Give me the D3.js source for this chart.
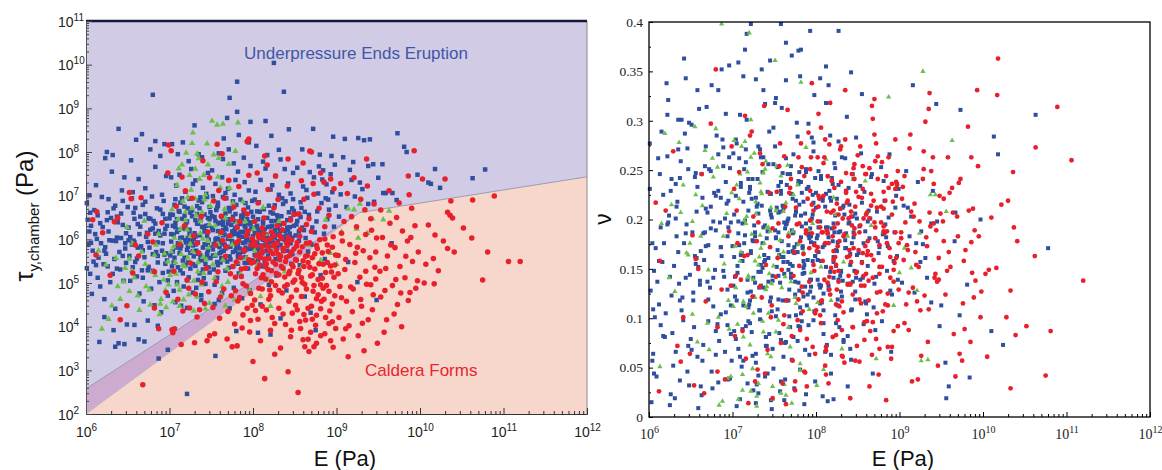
<!DOCTYPE html>
<html>
<head>
<meta charset="utf-8">
<script src="https://cdn.jsdelivr.net/npm/d3@7"></script>
<style>
  body { margin: 0; background: #fff; }
  svg { display: block; }
</style>
</head>
<body>
<svg id="chart" width="1162" height="470"></svg>
<script>
// Samples: [log10 E (Pa), log10 tau_y,chamber (Pa), Poisson ratio nu]
const underpressureEnds = [
[6.02,6.45,.128],[6.05,5.21,.064],[6.01,6.83,.277],[6.08,5.74,.171],[6.11,6.12,.262],[6.03,5.88,.015],[6.14,6.55,.093],[6.17,4.92,.225],[6.06,6.31,.148],[6.21,5.43,.338],[6.19,6.97,.081],[6.24,5.67,.204],[6.12,7.24,.114],[6.27,6.18,.241],[6.29,5.02,.052],[6.33,6.71,.183],[6.22,4.63,.306],[6.36,5.96,.135],[6.31,7.55,.019],[6.38,6.39,.259],[6.41,5.31,.098],[6.44,6.88,.343],[6.35,4.41,.167],[6.47,5.79,.072],[6.26,6.62,.229],[6.43,7.12,.287],[6.09,5.49,.041],[6.16,3.65,.157],[6.39,3.62,.108],[6.33,3.92,.213],[6.48,6.14,.032],[6.45,5.05,.195],[6.13,6.01,.246],[6.28,5.98,.085],[6.37,6.52,.118],[6.46,7.42,.272],[6.04,7.01,.057],[6.23,7.86,.321],[6.49,4.05,.144],[6.34,5.55,.218],[6.18,5.91,.176],[6.07,4.75,.101],[6.42,6.03,.363],[6.25,6.44,.012],[6.32,7.93,.236],
[6.52,5.62,.187],[6.55,6.94,.243],[6.58,4.04,.061],[6.51,6.27,.296],[6.61,5.15,.134],[6.63,7.38,.022],[6.57,6.61,.208],[6.66,5.84,.159],[6.69,4.58,.314],[6.54,7.81,.091],[6.72,6.06,.251],[6.75,5.37,.046],[6.68,6.79,.173],[6.78,4.87,.227],[6.71,7.17,.119],[6.81,6.42,.285],[6.84,5.71,.077],[6.77,8.06,.198],[6.87,6.19,.352],[6.59,5.48,.009],[6.90,4.33,.142],[6.93,6.88,.216],[6.86,5.93,.104],[6.96,7.45,.263],[6.62,6.35,.168],[6.99,5.26,.057],[6.74,4.14,.191],[6.83,7.66,.331],[6.53,5.05,.126],[6.65,6.52,.073],[6.92,6.58,.238],[6.56,7.08,.155],[6.88,5.02,.281],[6.70,5.59,.207],[6.97,6.31,.039],[6.79,6.98,.149],[6.64,4.76,.222],[6.94,5.65,.183],[6.82,4.49,.094],[6.60,8.28,.312],[6.73,6.15,.131],[6.91,7.02,.066],[6.67,5.29,.254],[6.85,6.71,.197],[6.98,4.71,.113],[6.76,5.81,.029],[6.89,7.91,.273],[6.57,5.97,.161],[6.95,5.44,.219],[6.80,6.25,.087],[6.63,3.71,.246],[6.70,3.66,.137],[6.86,4.02,.172],
[6.80,9.31,.224],[6.39,8.53,.301],[6.67,8.41,.187],[6.25,8.00,.142],[6.83,8.25,.266],[6.94,8.18,.093],
[7.02,6.12,.205],[7.05,5.47,.118],[7.08,7.23,.262],[7.11,6.65,.051],[7.14,5.86,.176],[7.17,4.92,.301],[7.03,8.18,.142],[7.20,6.38,.227],[7.23,5.13,.086],[7.26,7.61,.194],[7.29,6.01,.033],[7.16,8.22,.258],[7.32,5.74,.131],[7.35,6.89,.214],[7.38,4.61,.164],[7.41,6.27,.072],[7.44,7.04,.289],[7.47,5.36,.107],[7.30,8.61,.241],[7.06,6.79,.153],[7.09,5.02,.018],[7.12,7.48,.196],[7.15,6.47,.372],[7.18,5.58,.126],[7.21,4.43,.233],[7.24,6.93,.062],[7.27,5.91,.183],[7.31,7.35,.274],[7.33,6.58,.099],[7.36,5.22,.151],[7.39,7.88,.317],[7.42,6.18,.044],[7.45,5.67,.209],[7.48,6.74,.138],[7.01,5.63,.267],[7.04,6.56,.079],[7.07,4.56,.186],[7.10,7.95,.233],[7.13,6.03,.345],[7.19,5.41,.111],[7.22,6.71,.168],[7.25,5.97,.027],[7.28,4.78,.222],[7.34,6.36,.147],[7.37,5.53,.192],[7.40,7.18,.081],[7.43,4.98,.256],[7.46,6.49,.121],[7.49,5.81,.293],[7.02,7.42,.162],[7.13,5.29,.057],[7.23,7.79,.221],[7.32,4.89,.108],[7.41,5.11,.181],[7.17,6.24,.388],[7.27,6.66,.136],[7.36,6.09,.248],[7.46,7.52,.017],[7.08,5.81,.174],[7.19,7.09,.097],[7.29,5.61,.213],[7.39,6.85,.159],[7.48,5.24,.069],[7.05,4.82,.277],[7.15,6.94,.199],[7.25,5.33,.141],[7.35,7.95,.352],[7.44,6.31,.084],[7.11,6.22,.166],[7.21,5.76,.231],[7.31,6.44,.042],[7.42,5.89,.188],[7.03,5.38,.122],[7.14,4.48,.251],[7.24,6.12,.179],[7.34,5.07,.133],[7.45,6.97,.226],[7.09,6.46,.306],[7.28,7.27,.064],[7.38,4.72,.157],[7.47,5.99,.202],[7.20,5.93,.114],[7.33,6.76,.271],[7.12,5.68,.089],
[7.52,6.21,.182],[7.55,5.63,.143],[7.58,6.84,.229],[7.61,5.97,.061],[7.64,6.42,.195],[7.67,5.28,.118],[7.70,7.16,.254],[7.73,6.05,.167],[7.76,5.71,.208],[7.79,6.58,.092],[7.82,5.44,.238],[7.85,6.91,.151],[7.88,6.17,.023],[7.91,5.59,.186],[7.94,6.73,.132],[7.97,5.86,.217],[7.51,7.58,.274],[7.54,4.96,.109],[7.57,6.36,.162],[7.60,5.82,.247],[7.63,7.42,.075],[7.66,6.11,.199],[7.69,5.49,.155],[7.72,6.64,.221],[7.75,5.93,.137],[7.78,7.02,.284],[7.81,6.29,.048],[7.84,5.67,.173],[7.87,6.48,.206],[7.90,7.31,.124],[7.93,6.02,.191],[7.96,6.39,.158],[7.99,5.52,.242],[7.53,5.89,.212],[7.56,6.67,.085],[7.59,4.61,.178],[7.62,6.53,.145],[7.65,5.74,.235],[7.68,6.94,.102],[7.71,5.35,.189],[7.74,6.33,.166],[7.77,4.89,.298],[7.80,6.79,.128],[7.83,6.08,.193],[7.86,5.16,.154],[7.89,6.61,.231],[7.92,5.77,.063],[7.95,7.12,.201],[7.98,6.24,.176],[7.52,6.99,.323],[7.58,5.41,.036],[7.64,7.84,.262],[7.70,6.46,.141],[7.76,6.87,.219],[7.82,7.55,.105],[7.88,5.92,.248],[7.94,5.33,.139],[7.55,7.27,.187],[7.61,6.14,.211],[7.67,6.59,.167],[7.73,5.54,.081],[7.79,7.36,.236],[7.85,6.35,.122],[7.91,6.83,.184],[7.97,7.68,.269],[7.53,5.31,.152],[7.59,7.97,.313],[7.65,8.31,.196],[7.71,8.06,.058],[7.77,7.74,.175],[7.83,8.39,.227],[7.89,7.87,.113],[7.95,8.22,.283],[7.69,8.78,.246],[7.72,9.24,.168],[7.81,9.61,.345],[7.81,8.92,.091],[7.56,6.02,.164],[7.62,5.57,.197],[7.68,6.23,.129],[7.74,6.71,.172],[7.80,5.83,.215],[7.86,6.54,.146],[7.92,5.99,.181],[7.98,6.63,.107],[7.54,4.52,.253],[7.63,4.77,.038],[7.72,4.42,.186],[7.87,4.65,.132],[7.96,4.83,.225],[7.60,6.38,.118],[7.66,5.88,.157],[7.75,6.18,.204],[7.84,5.79,.171],[7.93,6.46,.139],[7.58,6.77,.226],[7.67,7.06,.149],[7.78,6.12,.077],[7.90,5.46,.188],[7.99,6.88,.163],[7.57,5.12,.208],[7.83,5.22,.097],[7.64,6.97,.341],[7.79,6.41,.371],[7.91,6.27,.297],
[8.02,6.15,.184],[8.05,5.72,.131],[8.08,6.63,.219],[8.11,6.02,.066],[8.14,5.86,.192],[8.17,6.49,.147],[8.20,5.95,.236],[8.23,6.31,.103],[8.26,6.78,.177],[8.29,5.81,.211],[8.32,6.18,.138],[8.35,6.94,.262],[8.38,5.99,.082],[8.41,6.44,.165],[8.44,6.07,.203],[8.47,6.71,.119],[8.03,7.09,.249],[8.06,5.51,.158],[8.09,7.36,.095],[8.12,6.36,.226],[8.15,7.62,.182],[8.18,5.63,.044],[8.21,7.14,.196],[8.24,6.59,.153],[8.27,7.45,.279],[8.30,6.26,.127],[8.33,7.83,.214],[8.36,5.77,.171],[8.39,6.87,.232],[8.42,7.28,.058],[8.45,5.91,.187],[8.48,7.52,.141],[8.25,10.04,.221],[8.37,9.38,.304],[8.15,8.71,.336],[7.97,8.69,.278],[8.04,8.14,.134],[8.22,8.37,.187],[8.31,8.05,.263],[8.43,8.52,.109],[8.10,5.38,.174],[8.19,4.96,.242],[8.28,5.17,.091],[8.40,4.83,.197],[8.46,5.44,.148],[8.07,6.85,.116],[8.16,6.11,.229],[8.25,5.88,.168],[8.34,6.53,.205],[8.44,6.28,.137],[8.01,5.79,.181],[8.13,6.69,.073],[8.22,6.42,.257],[8.31,7.02,.122],[8.40,6.09,.215],[8.49,6.65,.164],[8.05,6.31,.198],[8.17,7.93,.285],[8.29,6.55,.143],[8.38,7.61,.031],[8.47,5.66,.206],[8.09,4.51,.125],[8.33,4.19,.078],[8.21,3.82,.162],[8.12,7.78,.318],[8.35,6.37,.179],[8.26,6.04,.113],[8.45,7.05,.241],[8.02,6.91,.159],[8.19,6.77,.191],[8.41,5.74,.069],[8.48,6.92,.283],[8.08,6.05,.222],[8.27,5.55,.139],[8.36,6.81,.186],[8.14,5.47,.016],[8.23,7.24,.252],[8.43,6.62,.176],
[8.52,6.34,.193],[8.55,5.97,.157],[8.58,6.72,.228],[8.61,6.21,.104],[8.64,7.13,.181],[8.67,6.56,.246],[8.70,5.88,.135],[8.73,7.42,.208],[8.76,6.41,.172],[8.79,7.67,.097],[8.82,6.83,.219],[8.85,6.13,.148],[8.88,7.26,.266],[8.91,6.68,.124],[8.94,7.91,.187],[8.97,6.29,.163],[8.53,7.64,.234],[8.59,8.06,.117],[8.65,6.95,.201],[8.72,8.53,.142],[8.78,7.05,.253],[8.84,7.58,.182],[8.90,6.91,.066],[8.96,8.35,.224],[8.56,5.41,.141],[8.62,4.69,.198],[8.69,4.32,.111],[8.75,3.92,.166],[8.81,5.18,.239],[8.57,6.85,.176],[8.63,6.03,.209],[8.71,6.27,.088],[8.77,6.64,.152],[8.83,7.37,.195],[8.89,6.46,.128],[8.95,7.08,.212],[8.54,6.58,.267],[8.68,7.54,.044],[8.80,7.94,.185],[8.93,7.49,.158],[8.99,6.77,.231],[8.60,7.21,.115],[8.74,6.16,.178],[8.87,6.94,.202],[8.98,7.71,.139],[8.66,5.72,.243],[8.86,5.55,.173],
[9.10,8.30,.212],[9.16,7.59,.336],[9.26,8.32,.188],[9.33,8.27,.141],[9.40,8.29,.229],[9.28,7.30,.175],[9.38,7.68,.116],[9.38,6.81,.196],[9.44,7.72,.317],[9.55,7.72,.055],[9.59,7.06,.031],[9.56,7.06,.019],[9.67,7.06,.207],[9.72,6.90,.103],[9.73,8.43,.311],[9.81,8.12,.134],[9.84,8.00,.040],[9.97,7.48,.200],[10.10,7.30,.087],[10.13,7.27,.284],[10.18,7.61,.266],[10.24,7.18,.073],[10.63,7.40,.306],[10.78,7.60,.171],[9.05,7.03,.214],[9.12,6.74,.183],[9.18,7.36,.126],[9.22,6.98,.238],[9.31,7.15,.161],[9.45,6.86,.198],[9.50,7.41,.113],[9.08,7.88,.249],[9.20,7.77,.176],[9.03,6.52,.136],[9.14,5.48,.203],[9.25,5.02,.157],[9.48,4.61,.092],[9.66,5.91,.178],
[7.21,2.46,.118],[7.55,3.33,.207],[6.98,3.47,.084],[6.87,3.27,.163],[6.35,3.54,.271],[6.46,3.60,.046],[6.22,4.22,.195],[8.06,3.86,.133],[7.80,3.90,.248],
[6.91,5.74,.201],[6.94,6.13,.129],[6.97,5.52,.252],[7.00,6.48,.173],[7.02,5.95,.087],[7.04,6.31,.224],[7.06,5.58,.146],[7.07,6.92,.198],[7.09,6.17,.061],[7.10,5.36,.237],[7.12,6.63,.158],[7.13,5.79,.113],[7.15,6.04,.184],[7.16,5.22,.271],[7.18,6.75,.139],[7.19,5.98,.209],[7.21,6.41,.095],[7.22,5.47,.166],[7.24,6.22,.241],[7.25,5.69,.122],[7.27,6.53,.187],[7.28,5.86,.055],[7.30,6.14,.216],[7.31,5.39,.147],[7.33,6.36,.108],[7.34,5.93,.263],[7.36,6.71,.176],[7.37,5.63,.131],[7.39,6.29,.194],[7.40,5.81,.072],[7.42,6.57,.228],[7.43,5.44,.161],[7.45,6.08,.117],[7.46,5.75,.205],[7.48,6.46,.143],[7.49,5.57,.256],[7.51,6.26,.189],[7.52,5.77,.102],[7.54,6.51,.169],[7.55,5.99,.234],[7.57,5.48,.136],[7.58,6.19,.078],[7.60,5.68,.214],[7.61,6.37,.157],[7.63,5.91,.191],[7.64,6.09,.118],[7.66,5.53,.246],[7.67,6.27,.174],[7.69,5.82,.091],[7.70,6.01,.226],[7.72,5.61,.153],[7.73,6.44,.187],[7.75,5.96,.124],[7.76,5.38,.208],[7.78,6.21,.167],[7.79,5.74,.239],[7.81,6.13,.111],[7.82,5.87,.182],[7.84,6.38,.145],[7.85,5.58,.218],[7.87,6.06,.068],[7.88,5.71,.196],[7.90,6.31,.159],[7.91,5.93,.233],[7.93,5.46,.127],[7.94,6.12,.177],[7.96,5.78,.205],[7.97,6.34,.098],[7.99,5.89,.163],[8.00,6.07,.227],[8.02,5.64,.139],[8.03,6.27,.192],[8.05,5.93,.115],[8.06,6.46,.241],[8.08,5.79,.172],[8.09,6.13,.084],[8.11,5.68,.213],[8.12,5.99,.152],[8.14,6.24,.186],[8.15,5.74,.129],[8.17,6.05,.222],[8.18,5.88,.063],[8.20,6.29,.178],[8.21,5.71,.141],[8.23,6.08,.204],[8.24,5.93,.169],[8.26,6.21,.119],[8.27,5.82,.235],[8.29,6.11,.188],[8.30,5.96,.147],[8.32,6.34,.212],[8.33,5.87,.076],[8.35,6.06,.171],[8.36,5.73,.229],[8.38,6.19,.135],[8.39,6.01,.196],[8.41,6.27,.154],[8.42,5.92,.108],[8.44,6.13,.246],[8.45,6.48,.182],[8.47,6.04,.127],[8.49,6.31,.201],[8.51,6.09,.166],[8.53,6.42,.139],[8.55,6.18,.217],[8.57,6.51,.094],[8.59,6.27,.188],[8.62,6.63,.153],
[6.01,5.34,.231],[6.04,6.18,.176],[6.06,5.92,.044],[6.10,6.67,.137],[6.15,5.58,.289],[6.20,6.28,.105],[6.23,5.82,.197],[6.30,6.49,.153],[6.32,5.21,.066],[6.37,6.04,.242],[6.40,5.71,.121],[6.44,6.33,.186],[6.48,5.46,.298],[6.50,6.74,.079],[6.55,5.88,.163],[6.58,6.47,.233],[6.61,5.56,.138],[6.64,6.12,.057],[6.68,5.75,.211],[6.71,6.58,.174],[6.74,5.29,.249],[6.77,6.22,.112],[6.80,5.66,.189],[6.83,6.36,.035],[6.86,5.47,.222],[6.89,6.09,.148],[6.92,5.23,.307],[6.95,6.47,.192],
[7.22,6.03,.398],[7.58,5.86,.398],[7.64,6.33,.379],[7.93,6.18,.391],[8.27,6.42,.391],[8.12,6.09,.355],[7.45,5.62,.361],[7.71,6.72,.366],[7.07,6.28,.359],[7.28,5.73,.342],[7.82,5.59,.372],[8.42,6.21,.349],[7.37,6.96,.331],[7.98,5.81,.326],[6.75,6.48,.336],[6.58,5.93,.331],[6.96,5.68,.356],[8.55,6.58,.327],[8.05,6.64,.343],[7.51,6.53,.318],
[6.53,6.05,.118],[6.56,5.36,.247],[6.59,6.72,.152],[6.62,5.81,.031],[6.65,6.29,.186],[6.68,5.12,.274],[6.71,6.86,.097],[6.74,5.94,.213],[6.77,6.47,.141],[6.80,5.28,.063],[6.83,6.13,.229],[6.86,5.62,.172],[6.89,6.68,.254],[6.92,5.91,.106],[6.95,6.24,.038],[6.98,5.06,.197],[7.01,6.57,.133],[7.04,5.72,.281],[7.07,6.38,.069],[7.10,5.91,.164],[7.13,6.84,.218],[7.16,5.51,.092],[7.19,6.29,.241],[7.22,5.83,.127],[7.25,6.61,.178],[7.28,5.43,.014],[7.31,6.06,.206],[7.34,5.67,.154],[7.37,6.43,.263],[7.40,5.31,.081],[7.43,6.19,.137],[7.46,5.87,.226],[7.49,6.62,.049],[7.52,5.63,.181],[7.55,6.42,.119],[7.58,6.01,.238],[7.61,5.47,.162],[7.64,6.21,.076],[7.67,5.79,.201],[7.70,6.36,.145],[7.73,5.83,.266],[7.76,6.52,.103],[6.12,5.41,.158],[6.17,6.37,.082],[6.22,5.74,.264],[6.27,6.92,.123],[6.32,5.97,.201],[6.37,5.33,.037],[6.42,6.59,.176],[6.47,5.91,.251],[6.05,6.61,.109],[6.14,5.12,.192],[6.26,5.38,.023],[6.35,6.77,.301],[6.44,5.62,.141],[6.51,5.98,.068],
[7.05,6.11,.011],[7.31,5.88,.024],[7.47,6.32,.008],[7.62,5.71,.017],[7.74,6.09,.029],[7.86,6.46,.013],[7.99,5.96,.036],[8.08,6.22,.021],[8.21,5.81,.018],[7.18,6.54,.034],[7.39,5.52,.041],[7.57,6.73,.026],
[7.79,6.26,.136],[7.82,5.66,.204],[7.85,6.17,.158],[7.88,6.55,.251],[7.91,5.81,.093],[7.94,6.37,.183],[7.97,5.97,.121],[8.00,6.52,.212],[8.03,5.77,.167],[8.06,6.19,.244],[8.09,5.86,.108],[8.12,6.41,.192],[8.15,5.96,.133],[8.18,6.28,.219],[8.21,6.62,.157],[8.24,6.14,.095],[8.27,5.91,.187],[8.30,6.47,.148]
];

const calderaForms = [
[6.08,6.45,.217],[6.13,6.63,.158],[6.20,6.15,.209],[6.12,5.64,.026],[6.34,6.40,.072],[6.38,6.49,.056],[6.49,4.48,.064],[6.54,6.93,.032],[6.56,5.23,.160],[6.59,5.87,.150],[6.66,6.95,.024],[6.68,2.67,.117],[6.80,5.94,.352],[6.82,4.43,.091],[6.82,5.26,.046],[6.96,4.78,.188],[6.99,8.16,.274],[6.98,7.52,.133],[6.41,4.16,.101],[6.63,5.62,.246],[6.91,6.38,.038],[6.74,6.12,.297],[6.87,3.95,.129],[6.52,7.07,.184],[6.29,5.18,.269],
[7.02,8.03,.231],[7.03,3.93,.082],[7.06,3.95,.176],[7.04,3.86,.143],[7.15,7.43,.305],[7.16,4.36,.059],[7.24,4.43,.122],[7.25,5.46,.203],[7.30,3.63,.048],[7.33,4.22,.267],[7.40,7.80,.154],[7.48,7.41,.191],[7.48,3.79,.019],[7.47,4.80,.113],[7.08,6.76,.248],[7.12,5.88,.087],[7.18,6.31,.164],[7.21,5.07,.285],[7.27,6.94,.036],[7.31,4.75,.197],[7.35,5.69,.121],[7.38,6.52,.315],[7.42,4.53,.068],[7.44,5.34,.227],[7.10,4.63,.139],[7.19,7.11,.014],[7.29,6.08,.178],[7.36,4.39,.256],[7.46,6.17,.101],[7.05,5.27,.209],[7.14,3.59,.163],[7.23,4.88,.289],[7.39,5.02,.044],[7.45,3.68,.172],[7.33,5.91,.132],
[7.57,8.18,.277],[7.63,7.96,.213],[7.95,8.30,.338],[7.93,8.24,.251],[7.58,5.26,.075],[7.75,3.54,.027],[7.81,3.56,.088],[8.00,3.20,.108],[7.52,4.44,.142],[7.55,5.87,.196],[7.60,4.19,.034],[7.62,6.53,.264],[7.65,4.86,.118],[7.67,5.61,.183],[7.70,4.35,.241],[7.72,6.08,.057],[7.74,4.71,.167],[7.76,5.38,.212],[7.78,4.06,.098],[7.80,5.92,.153],[7.82,4.59,.277],[7.84,6.41,.126],[7.86,5.15,.046],[7.88,4.27,.189],[7.90,5.74,.221],[7.92,4.93,.137],[7.94,6.19,.263],[7.96,3.88,.071],[7.98,5.46,.174],[7.99,4.49,.105],[7.53,6.88,.228],[7.59,7.12,.149],[7.66,6.94,.311],[7.71,7.35,.082],[7.77,6.74,.195],[7.83,7.21,.253],[7.89,6.67,.031],[7.95,7.47,.186],[7.54,3.84,.161],[7.61,4.68,.094],[7.69,3.72,.232],[7.79,4.82,.119],[7.87,3.97,.045],[7.97,4.14,.209],[7.56,5.03,.254],[7.64,5.97,.013],[7.73,5.21,.143],[7.81,6.27,.178],[7.91,5.34,.288],[7.99,6.02,.064],[7.68,5.83,.227],[7.85,5.58,.165],[7.62,6.16,.103],[7.75,6.46,.036],[7.93,6.58,.199],
[8.14,7.91,.244],[8.05,7.52,.192],[8.17,7.70,.318],[8.27,7.45,.137],[8.42,7.84,.208],[8.02,5.94,.172],[8.04,5.62,.221],[8.06,6.11,.095],[8.08,5.41,.158],[8.10,5.83,.263],[8.12,6.02,.043],[8.14,5.55,.186],[8.16,5.97,.129],[8.18,5.31,.207],[8.20,5.73,.081],[8.22,6.17,.232],[8.24,5.48,.154],[8.26,5.89,.196],[8.28,5.22,.112],[8.30,5.66,.274],[8.32,6.08,.061],[8.34,5.38,.185],[8.36,5.79,.227],[8.38,5.14,.134],[8.40,5.59,.169],[8.42,6.04,.203],[8.44,5.27,.091],[8.46,5.71,.256],[8.48,5.02,.146],[8.03,5.21,.213],[8.07,4.88,.118],[8.11,4.47,.176],[8.15,5.09,.034],[8.19,4.63,.239],[8.23,4.21,.162],[8.27,4.94,.205],[8.31,4.42,.088],[8.35,4.77,.281],[8.39,4.05,.143],[8.43,4.58,.194],[8.47,4.31,.057],[8.09,3.68,.224],[8.21,3.92,.168],[8.33,3.51,.106],[8.45,3.77,.252],[8.13,6.49,.189],[8.25,6.72,.129],[8.37,6.36,.217],[8.49,6.57,.072],[8.06,6.83,.293],[8.18,7.14,.151],[8.30,6.91,.238],[8.41,7.22,.019],[8.08,5.67,.187],[8.16,5.44,.276],[8.24,5.86,.114],[8.32,5.53,.201],[8.40,5.92,.163],[8.48,5.37,.228],[8.12,5.19,.067],[8.28,5.76,.178],[8.44,5.98,.124],[8.03,4.37,.307],[8.22,5.03,.147],[8.38,4.92,.219],[8.11,6.26,.052],[8.35,6.22,.331],[8.20,4.84,.183],[8.46,4.68,.241],[8.26,3.37,.098],[8.42,2.97,.157],[8.14,2.81,.136],[8.02,6.41,.263],[8.29,6.31,.211],[8.45,6.44,.171],
[8.54,2.49,.115],[8.60,7.75,.246],[8.70,8.00,.286],[8.68,8.02,.302],[8.62,3.54,.178],[8.67,3.43,.063],[8.73,3.54,.212],[8.60,3.70,.145],[8.95,4.11,.231],[8.52,5.84,.187],[8.54,5.22,.133],[8.56,6.07,.254],[8.58,4.69,.096],[8.60,5.51,.205],[8.62,4.97,.168],[8.64,5.91,.031],[8.66,4.42,.226],[8.68,5.36,.141],[8.70,6.18,.197],[8.72,4.81,.079],[8.74,5.67,.264],[8.76,4.26,.152],[8.78,5.08,.213],[8.80,5.99,.107],[8.82,4.58,.186],[8.84,5.43,.244],[8.86,6.29,.125],[8.88,4.94,.171],[8.90,5.72,.059],[8.92,4.36,.218],[8.94,5.25,.156],[8.96,6.06,.238],[8.98,4.71,.092],[8.53,4.39,.274],[8.57,3.96,.201],[8.63,4.15,.118],[8.69,3.87,.159],[8.75,4.03,.043],[8.81,3.79,.193],[8.87,4.21,.232],[8.93,3.68,.137],[8.99,3.96,.176],[8.55,6.58,.222],[8.61,6.92,.164],[8.67,6.47,.315],[8.73,7.03,.105],[8.79,6.71,.258],[8.85,7.31,.188],[8.91,6.55,.071],[8.97,7.16,.236],[8.58,7.34,.133],[8.72,7.28,.277],[8.81,7.52,.211],[8.93,7.38,.149],[8.51,5.54,.169],[8.59,5.01,.246],[8.65,5.63,.087],[8.71,5.19,.192],[8.77,5.79,.127],[8.83,5.11,.219],[8.89,5.47,.162],[8.95,5.82,.281],[8.64,6.34,.201],[8.86,6.01,.113],[8.76,4.64,.174],[8.52,4.84,.056],[8.98,5.41,.249],[8.57,6.23,.143],[8.70,4.47,.322],[8.84,4.88,.017],
[9.08,3.72,.114],[9.14,3.31,.208],[9.26,3.79,.062],[9.33,3.45,.173],[9.38,4.16,.249],[9.36,7.84,.328],[9.02,5.63,.187],[9.04,4.92,.233],[9.06,6.14,.095],[9.10,5.31,.169],[9.12,4.58,.272],[9.16,5.88,.131],[9.18,6.52,.216],[9.20,4.86,.154],[9.22,5.47,.038],[9.24,6.29,.198],[9.28,5.13,.241],[9.30,4.47,.123],[9.32,5.74,.182],[9.34,6.68,.076],[9.36,4.97,.207],[9.40,5.58,.263],[9.42,6.21,.141],[9.44,4.73,.189],[9.46,5.36,.052],[9.48,6.03,.224],[9.05,7.28,.159],[9.13,7.05,.286],[9.21,7.41,.117],[9.29,6.92,.251],[9.37,7.22,.193],[9.45,6.81,.137],[9.03,4.21,.221],[9.11,3.95,.088],[9.19,4.34,.167],[9.31,4.08,.299],[9.43,4.39,.145],[9.49,3.62,.206],[9.09,6.41,.174],[9.25,5.82,.108],[9.41,6.47,.236],[9.15,4.02,.036],[9.35,6.11,.312],[9.47,5.09,.161],[9.07,5.96,.197],
[9.60,4.16,.227],[9.78,4.00,.089],[9.86,4.60,.177],[9.72,6.50,.064],[9.93,8.03,.331],[9.86,7.45,.263],[9.87,7.02,.146],[9.52,5.27,.198],[9.55,6.04,.124],[9.58,4.83,.263],[9.61,5.62,.152],[9.64,6.37,.207],[9.67,4.94,.041],[9.70,5.81,.183],[9.73,4.51,.241],[9.76,5.38,.115],[9.79,6.19,.169],[9.82,5.12,.294],[9.85,5.96,.076],[9.88,4.78,.211],[9.91,5.49,.138],[9.94,6.31,.254],[9.97,5.05,.101],[9.53,6.67,.178],[9.63,7.11,.232],[9.75,6.83,.057],[9.90,6.71,.189],[9.98,5.71,.127],[9.57,3.87,.148],[9.69,4.29,.203],
[10.03,7.38,.145],[10.30,7.38,.219],[10.37,6.88,.192],[10.63,6.90,.273],[10.89,6.99,.314],[10.33,6.62,.128],[10.36,6.55,.248],[10.39,6.49,.083],[10.10,6.33,.202],[10.62,6.03,.163],[10.81,5.71,.087],[11.06,5.49,.260],[11.20,5.49,.138],[10.75,5.07,.042],[10.41,5.71,.178],[10.33,5.79,.029],[10.18,6.10,.363],[10.17,4.98,.326],[10.05,5.00,.061],[10.16,5.56,.151],[10.52,6.26,.092],
[8.01,5.48,.168],[8.03,5.86,.224],[8.05,5.33,.103],[8.07,6.04,.187],[8.09,5.58,.257],[8.10,5.12,.139],[8.12,5.72,.071],[8.13,6.14,.208],[8.15,5.37,.176],[8.17,5.84,.124],[8.19,5.56,.239],[8.21,6.01,.159],[8.22,5.28,.192],[8.24,5.67,.083],[8.25,6.09,.216],[8.27,5.43,.148],[8.29,5.91,.271],[8.31,5.19,.117],[8.33,5.62,.183],[8.34,6.02,.055],[8.36,5.34,.229],[8.37,5.74,.162],[8.39,5.49,.201],[8.41,5.86,.134],[8.43,5.21,.246],[8.44,5.63,.091],[8.46,5.98,.185],[8.47,5.42,.213],[8.49,5.78,.147],[8.50,5.07,.265],[8.52,5.52,.119],[8.53,5.93,.194],[8.55,5.29,.156],[8.56,5.71,.231],[8.58,5.12,.078],[8.59,5.83,.173],[8.61,5.38,.207],[8.63,5.61,.138],[8.64,4.86,.252],[8.66,5.47,.164],[8.68,5.92,.096],[8.69,5.16,.219],[8.71,5.58,.181],[8.73,4.94,.126],[8.74,5.32,.241],[8.76,5.86,.069],[8.78,4.73,.197],[8.79,5.44,.152],[8.81,4.96,.228],[8.83,5.69,.114],[8.85,4.63,.176],[8.87,5.24,.263],[8.89,5.87,.141],[8.91,4.81,.205],[8.93,5.39,.087],[8.95,4.52,.187],[8.97,5.13,.235],[8.99,5.64,.129],
[7.80,5.48,.196],[7.83,5.97,.132],[7.86,5.32,.244],[7.89,5.76,.079],[7.92,6.09,.171],[7.95,5.53,.215],[7.98,5.87,.148],[7.79,5.13,.263],[7.84,4.67,.107],[7.88,4.98,.186],[7.93,4.42,.229],[7.97,4.76,.154],[8.02,4.61,.198],[8.06,4.17,.117],[8.11,4.86,.281],[8.16,4.38,.142],[8.21,4.71,.209],[8.26,4.07,.173],[8.31,4.83,.062],[8.36,4.29,.247],[8.41,4.96,.135],[8.46,3.92,.191],[8.51,4.49,.223],[8.56,4.12,.166],[8.61,4.28,.097],[8.66,3.71,.214],[8.71,4.17,.259],[8.76,3.62,.145],[8.81,4.41,.188],[8.86,3.84,.071],[8.91,4.07,.236],[8.96,3.53,.161],
[9.02,5.21,.181],[9.06,4.66,.244],[9.11,5.54,.126],[9.17,4.91,.203],[9.23,5.68,.152],[9.29,4.62,.269],[9.35,5.27,.109],[9.41,4.96,.196],[9.47,5.71,.139],[9.53,4.68,.221],[9.59,5.33,.167],[9.65,5.87,.084],[9.71,5.08,.237],[9.77,4.77,.158],[9.83,5.61,.209],[9.89,6.04,.121],[9.95,4.88,.183],[10.07,5.43,.149],[10.22,5.28,.215],[10.28,5.96,.101]
];

const transitional = [
[6.19,3.95,.287],[6.24,5.42,.141],[6.15,5.74,.196],[6.13,5.64,.051],[6.36,5.57,.278],[6.52,5.55,.104],[6.56,5.90,.225],[6.45,5.03,.166],[6.55,5.28,.294],[6.80,5.25,.292],[6.84,5.87,.012],[6.87,6.12,.398],[6.62,4.71,.183],[6.72,4.92,.068],[6.77,4.50,.243],[6.90,4.63,.155],[6.93,5.07,.206],[6.96,4.44,.089],[6.41,4.63,.235],[6.31,4.48,.127],[6.67,5.71,.270],[6.98,5.49,.041],[6.49,6.28,.176],[6.27,4.17,.215],[6.88,4.28,.016],[6.95,4.83,.118],[6.82,5.64,.253],[6.70,6.42,.095],
[7.20,7.98,.389],[7.27,8.20,.121],[7.28,8.44,.206],[7.45,8.19,.188],[7.31,7.61,.154],[7.02,5.72,.280],[7.04,4.57,.131],[7.06,6.03,.094],[7.08,5.21,.221],[7.10,6.46,.167],[7.12,4.84,.043],[7.14,5.66,.199],[7.16,6.87,.112],[7.18,5.38,.248],[7.21,6.22,.073],[7.23,4.73,.185],[7.25,5.89,.139],[7.26,7.13,.267],[7.29,5.05,.021],[7.32,6.55,.162],[7.34,5.47,.228],[7.36,7.38,.097],[7.38,4.96,.176],[7.40,6.01,.259],[7.42,6.91,.064],[7.44,5.54,.145],[7.46,7.71,.212],[7.48,6.34,.031],[7.03,6.68,.173],[7.09,7.24,.246],[7.13,5.94,.117],[7.17,4.62,.203],[7.22,5.58,.026],[7.27,6.71,.158],[7.33,4.68,.237],[7.37,6.14,.086],[7.41,5.22,.192],[7.47,5.81,.135],[7.11,7.62,.274],[7.24,7.47,.049],[7.35,7.85,.226],[7.43,4.41,.105],[7.07,5.47,.018],[7.19,6.43,.143],[7.39,6.62,.251],
[7.51,8.71,.361],[7.57,8.62,.179],[7.64,8.64,.217],[7.82,8.67,.339],[7.52,6.88,.086],[7.55,5.64,.163],[7.58,7.43,.024],[7.61,6.12,.208],[7.63,4.92,.142],[7.66,6.69,.255],[7.69,5.33,.071],[7.72,7.17,.188],[7.75,5.88,.121],[7.78,4.61,.235],[7.81,6.39,.054],[7.85,5.21,.167],[7.88,6.86,.273],[7.92,5.57,.109],[7.96,4.83,.196],[8.01,6.24,.032],[8.06,5.43,.152],[8.12,6.73,.261],[8.18,5.07,.118],[8.24,5.81,.205],[8.31,6.41,.069],[8.38,5.26,.183],[8.45,5.96,.241],[7.59,7.86,.131],[7.71,7.72,.014],[7.79,8.02,.175],[7.54,5.11,.228],[7.67,4.48,.091],[7.94,6.19,.146],[8.09,4.69,.048],[8.21,4.47,.222],
[8.87,6.45,.324],[8.72,5.61,.059],[8.81,5.52,.187],[8.93,5.68,.113],[8.59,5.39,.239],[9.06,6.17,.171],[9.14,6.70,.151],[9.21,6.68,.128],[9.24,6.24,.186],[9.26,6.03,.057],[9.34,6.66,.058],[9.37,6.14,.225],[9.28,6.81,.350],[9.43,6.47,.225],[9.56,6.45,.208],[9.63,6.65,.280],[8.66,5.87,.194],[9.00,5.43,.146],
[7.01,5.18,.112],[7.05,5.83,.235],[7.09,4.96,.158],[7.13,6.23,.081],[7.16,5.41,.196],[7.19,6.62,.141],[7.22,5.04,.263],[7.25,6.07,.105],[7.28,5.72,.218],[7.31,6.93,.034],[7.34,5.26,.171],[7.37,6.41,.247],[7.40,5.59,.129],[7.43,7.02,.192],[7.46,5.97,.061],[7.49,6.76,.153],[7.52,5.42,.209],[7.55,6.31,.098],[7.58,5.89,.244],[7.61,7.18,.167],[7.64,5.53,.022],[7.67,6.49,.186],[7.70,5.02,.137],[7.73,6.05,.225],[7.76,6.83,.115],[6.52,4.81,.198],[6.58,5.12,.076],[6.64,4.38,.214],[6.71,5.43,.149],[6.76,4.84,.262],[6.83,5.18,.101],[6.89,4.52,.183],[6.94,5.67,.039],[6.99,4.96,.227],[6.47,5.34,.164],[6.38,4.92,.207],[7.15,7.71,.279],[7.33,7.96,.184],[7.41,7.47,.132],[7.53,7.94,.254],[7.22,6.96,.301],[7.81,5.47,.047],[7.91,6.41,.189],[8.02,5.74,.116],[8.15,6.12,.243],[8.33,5.61,.157],[7.12,4.47,.027],[7.29,4.36,.011],[7.48,4.54,.018],[7.62,4.73,.033]
];

// Regime boundaries in (E, tau) space, Pa
const upperBoundary = [[1e6, 380], [1.9e9, 4.1e6], [1e12, 2.7e7]];
const lowerBoundary = [[1e6, 100], [1.9e9, 4.1e6]];

// Axis ticks
const eTicks = [1e6, 1e7, 1e8, 1e9, 1e10, 1e11, 1e12];
const tauTicks = [1e2, 1e3, 1e4, 1e5, 1e6, 1e7, 1e8, 1e9, 1e10, 1e11];
const nuTicks = [0, 0.05, 0.1, 0.15, 0.2, 0.25, 0.3, 0.35, 0.4];
const nuMinorTicks = [0.025, 0.075, 0.125, 0.175, 0.225, 0.275, 0.325, 0.375];

const COL_BLUE = '#2f4e9e', COL_RED = '#e8202b', COL_GREEN = '#6cbf4a';
const SANS = "'Liberation Sans', Arial, Helvetica, sans-serif";
const SERIF = "'Liberation Serif', 'Times New Roman', serif";
const blank = () => '';

const svg = d3.select('#chart');

const xL = d3.scaleLog().domain([1e6, 1e12]).range([86, 587]);
const yL = d3.scaleLog().domain([1e2, 1e11]).range([414, 21]);
const xR = d3.scaleLog().domain([1e6, 1e12]).range([649, 1150]);
const yR = d3.scaleLinear().domain([0, 0.4]).range([417, 22]);

function minorLog(majors) {
  const out = [];
  majors.slice(0, -1).forEach(m => { for (let k = 2; k <= 9; k++) out.push(m * k); });
  return out;
}

function powerLabels(g, supSize, rise) {
  g.selectAll('.tick text').each(function (d) {
    const t = d3.select(this);
    const exp = Math.round(Math.log10(d));
    t.text('10');
    t.append('tspan').attr('dy', -rise).attr('font-size', supSize).text(exp);
  });
}

/* ---------------- left panel: tau vs E ---------------- */
const left = svg.append('g');
const [lx0, lx1] = xL.range();
const [ly0, ly1] = yL.range();

left.append('rect')
  .attr('x', lx0).attr('y', ly1).attr('width', lx1 - lx0).attr('height', ly0 - ly1)
  .attr('fill', '#d1cbe5');

const bLine = d3.line().x(d => xL(d[0])).y(d => yL(d[1]));
const pinkZone = [...lowerBoundary, ...upperBoundary.slice(1), [1e12, 1e2]];
left.append('path').attr('d', bLine(pinkZone) + 'Z').attr('fill', '#f7d6cc');
const overlapZone = [lowerBoundary[0], upperBoundary[0], upperBoundary[1]];
left.append('path').attr('d', bLine(overlapZone) + 'Z').attr('fill', '#cdaad0');
left.append('path').attr('d', bLine(upperBoundary)).attr('fill', 'none')
  .attr('stroke', '#9c9cb4').attr('stroke-width', 1);
left.append('path').attr('d', bLine(lowerBoundary)).attr('fill', 'none')
  .attr('stroke', '#c8b4bc').attr('stroke-width', 0.8);

const symSq = d3.symbol().type(d3.symbolSquare);
const symCi = d3.symbol().type(d3.symbolCircle);
const symTr = d3.symbol().type(d3.symbolTriangle);

function plotSeries(g, data, fx, fy, sym, size, color) {
  g.append('g').selectAll('path').data(data).join('path')
    .attr('d', sym.size(size)())
    .attr('transform', d => `translate(${fx(d).toFixed(2)},${fy(d).toFixed(2)})`)
    .attr('fill', color);
}
const lx = d => xL(Math.pow(10, d[0]));
const ly = d => yL(Math.pow(10, d[1]));
plotSeries(left, underpressureEnds, lx, ly, symSq, 20, COL_BLUE);
plotSeries(left, transitional, lx, ly, symTr, 17, COL_GREEN);
plotSeries(left, calderaForms, lx, ly, symCi, 24, COL_RED);

left.append('text').attr('x', 244).attr('y', 59)
  .attr('font-family', SANS).attr('font-size', 17).attr('fill', '#3f57a7')
  .text('Underpressure Ends Eruption');
left.append('text').attr('x', 365).attr('y', 376)
  .attr('font-family', SANS).attr('font-size', 17).attr('fill', '#e5262f')
  .text('Caldera Forms');

// frame
left.append('line').attr('x1', lx1).attr('x2', lx1).attr('y1', ly1).attr('y2', ly0)
  .attr('stroke', '#9a9a9a').attr('stroke-width', 1.2);
left.append('line').attr('x1', lx0).attr('x2', lx1).attr('y1', ly1).attr('y2', ly1)
  .attr('stroke', '#15153a').attr('stroke-width', 2.5);

// axes
const lxAxis = left.append('g').attr('transform', `translate(0,${ly0})`);
lxAxis.call(d3.axisBottom(xL).tickValues(minorLog(eTicks)).tickSize(-3).tickFormat(blank));
const lxMajor = lxAxis.append('g')
  .call(d3.axisBottom(xL).tickValues(eTicks).tickSize(-6).tickSizeOuter(0).tickPadding(13));
lxAxis.selectAll('path.domain').attr('stroke', '#333');
lxAxis.selectAll('line').attr('stroke', '#333');
lxMajor.selectAll('text').attr('font-family', SANS).attr('font-size', 14).attr('fill', '#222');
powerLabels(lxMajor, 10, 6);

const lyAxis = left.append('g').attr('transform', `translate(${lx0},0)`);
lyAxis.call(d3.axisLeft(yL).tickValues(minorLog(tauTicks)).tickSize(-3).tickFormat(blank));
const lyMajor = lyAxis.append('g')
  .call(d3.axisLeft(yL).tickValues(tauTicks).tickSize(-6).tickSizeOuter(0));
lyAxis.selectAll('path.domain').attr('stroke', '#555');
lyAxis.selectAll('line').attr('stroke', '#444');
lyMajor.selectAll('text').attr('font-family', SANS).attr('font-size', 14).attr('fill', '#222')
  .attr('x', -28).attr('text-anchor', 'start').attr('dy', '0.36em');
powerLabels(lyMajor, 10, 6);

left.append('text').attr('x', 345).attr('y', 466).attr('text-anchor', 'middle')
  .attr('font-family', SANS).attr('font-size', 22).attr('fill', '#111').text('E (Pa)');

const tauTitle = left.append('text')
  .attr('transform', 'translate(33,216) rotate(-90)')
  .attr('text-anchor', 'middle').attr('font-family', SANS).attr('fill', '#111');
tauTitle.append('tspan').attr('font-size', 25).text('τ');
tauTitle.append('tspan').attr('font-size', 15).attr('dy', 6).text('y,chamber');
tauTitle.append('tspan').attr('font-size', 24).attr('dy', -6).text(' (Pa)');

/* ---------------- right panel: nu vs E ---------------- */
const right = svg.append('g');
const [rx0, rx1] = xR.range();
const [ry0, ry1] = yR.range();
const rx = d => xR(Math.pow(10, d[0]));
const ry = d => yR(d[2]);
plotSeries(right, underpressureEnds, rx, ry, symSq, 16, COL_BLUE);
plotSeries(right, transitional, rx, ry, symTr, 12, COL_GREEN);
plotSeries(right, calderaForms, rx, ry, symCi, 18, COL_RED);

right.append('rect').attr('x', rx0).attr('y', ry1).attr('width', rx1 - rx0).attr('height', ry0 - ry1)
  .attr('fill', 'none').attr('stroke', '#000').attr('stroke-width', 1.3);

const rxAxis = right.append('g').attr('transform', `translate(0,${ry0})`);
rxAxis.call(d3.axisBottom(xR).tickValues(minorLog(eTicks)).tickSize(-3).tickFormat(blank));
const rxMajor = rxAxis.append('g')
  .call(d3.axisBottom(xR).tickValues(eTicks).tickSize(-5).tickSizeOuter(0).tickPadding(12));
rxAxis.selectAll('path.domain').remove();
rxAxis.selectAll('line').attr('stroke', '#000');
rxMajor.selectAll('text').attr('font-family', SERIF).attr('font-size', 14).attr('fill', '#222');
powerLabels(rxMajor, 10, 6);

const ryAxis = right.append('g').attr('transform', `translate(${rx0},0)`);
ryAxis.call(d3.axisLeft(yR).tickValues(nuMinorTicks).tickSize(-2).tickFormat(blank));
const ryMajor = ryAxis.append('g').call(d3.axisLeft(yR).tickValues(nuTicks).tickSize(-4).tickSizeOuter(0)
  .tickPadding(6).tickFormat(d => String(+d.toFixed(2))));
ryAxis.selectAll('path.domain').remove();
ryAxis.selectAll('line').attr('stroke', '#000');
ryMajor.selectAll('text').attr('font-family', SERIF).attr('font-size', 13.5).attr('fill', '#222');

right.append('text').attr('x', 903).attr('y', 466).attr('text-anchor', 'middle')
  .attr('font-family', SANS).attr('font-size', 22).attr('fill', '#111').text('E (Pa)');
right.append('text').attr('transform', 'translate(611,219) rotate(-90)')
  .attr('text-anchor', 'middle').attr('font-family', SANS).attr('font-size', 23)
  .attr('fill', '#111').text('ν');
</script>
</body>
</html>
